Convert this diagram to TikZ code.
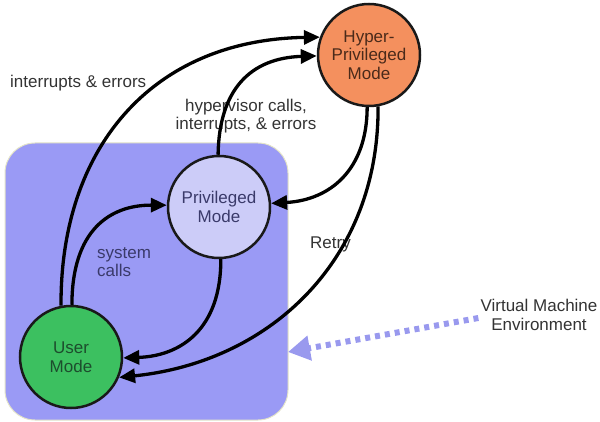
\documentclass[tikz,border=0pt]{standalone}
\usepackage{fontspec}
\setmainfont{Liberation Sans}
\usetikzlibrary{arrows.meta}
\definecolor{vmfill}{HTML}{9A9AF5}
\definecolor{vmedge}{HTML}{E4E4C8}
\definecolor{hyperfill}{HTML}{F4905E}
\definecolor{privfill}{HTML}{CCCCF8}
\definecolor{userfill}{HTML}{3CC060}
\definecolor{labelgray}{HTML}{333333}
\definecolor{navytext}{HTML}{3A3A6A}
\definecolor{greentext}{HTML}{1D4D2D}
\definecolor{browntext}{HTML}{4A2A1A}
\definecolor{dashblue}{HTML}{9999EE}
\begin{document}
\begin{tikzpicture}[x=1pt,y=-1pt,
  txt/.style={font=\fontsize{17}{18.5}\selectfont, inner sep=0pt},
  mode/.style={circle, draw=black!90, line width=2.5pt, minimum size=102pt,
    inner sep=0pt, align=center, font=\fontsize{17}{18.5}\selectfont},
  flow/.style={line width=3.3pt, -{Triangle[length=16pt,width=14pt]}},
  vmarrow/.style={dashblue, line width=6pt, dash pattern=on 5pt off 5pt,
    -{Triangle[length=22pt,width=24pt]}}
]
\useasboundingbox (0,0) rectangle (600,422);

% virtual machine environment
\node (box) [fill=vmfill, draw=vmedge, line width=1pt, rounded corners=30pt,
  minimum width=283pt, minimum height=277pt, inner sep=0pt] at (146.5,281.5) {};

% the three modes
\node (h) [mode, fill=hyperfill, text=browntext] at (369,55) {Hyper-\\Privileged\\Mode};
\node (p) [mode, fill=privfill, text=navytext] at (219,207) {Privileged\\Mode};
\node (u) [mode, fill=userfill, text=greentext] at (71,357) {User\\Mode};

% transition labels
\node (l1) [txt, text=labelgray, anchor=west] at (10,83) {interrupts \& errors};
\node (l2) [txt, text=labelgray, align=center] at (246,116) {hypervisor calls,\\interrupts, \& errors};
\node (l3) [txt, text=labelgray, anchor=west] at (310,244) {Retry};
\node (l4) [txt, text=navytext, align=left, anchor=west] at (97,262) {system\\calls};
\node (vm) [txt, text=labelgray, align=center] at (539,315) {Virtual Machine\\Environment};

% transitions
\draw[flow] (u.101) .. controls (60,150) and (150,40) .. (h.160);
\draw[flow] (p.91) .. controls (219,90) and (250,58) .. (h.181);
\draw[flow] (h.268) .. controls (367,170) and (330,200) .. (p.4);
\draw[flow] (h.280) .. controls (379,260) and (270,362) .. (u.-23);
\draw[flow] (p.-88) .. controls (221,330) and (180,356) .. (u.-1);
\draw[flow] (u.89) .. controls (72,230) and (110,205) .. (p.178);

% pointer to the environment box
\coordinate (vmtip) at (288,352);
\draw[vmarrow] ([xshift=-2pt,yshift=-3pt]vm.west) -- (vmtip);
\end{tikzpicture}
\end{document}
